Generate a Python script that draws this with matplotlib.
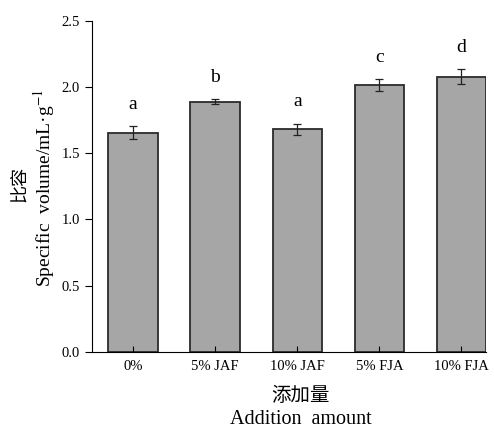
import numpy as np
import matplotlib
matplotlib.use("Agg")
import matplotlib.pyplot as plt

plt.rcParams['font.family'] = ['Liberation Serif', 'Noto Sans CJK SC']
plt.rcParams['mathtext.fontset'] = 'stix'

groups = ['0%', '5% JAF', '10% JAF', '5% FJA', '10% FJA']
values = [1.656, 1.89, 1.68, 2.015, 2.08]
errors = [0.047, 0.02, 0.045, 0.043, 0.057]
letters = ['a', 'b', 'a', 'c', 'd']

fig = plt.figure(figsize=(4.94, 4.28), dpi=100)
ax = fig.add_axes([0.186, 0.178, 0.798, 0.773])

x = np.arange(len(groups))
ax.bar(x, values, width=0.6, color='#a6a6a6', edgecolor='#2b2b2b', linewidth=1.3,
       yerr=errors, error_kw=dict(ecolor='#222222', elinewidth=0.9, capsize=3, capthick=0.9))

for i in range(len(groups)):
    ax.text(x[i], values[i] + errors[i] + 0.1, letters[i], ha='center', va='bottom', fontsize=14)

ax.set_xlim(-0.5, 4.3)
ax.set_ylim(0, 2.5)
ax.set_yticks([0.0, 0.5, 1.0, 1.5, 2.0, 2.5])
ax.set_yticklabels(['0.0', '0.5', '1.0', '1.5', '2.0', '2.5'])
ax.set_xticks(x)
ax.set_xticklabels(groups)
ax.tick_params(axis='x', direction='in', length=4, labelsize=10.5, pad=6)
ax.tick_params(axis='y', direction='out', length=5, labelsize=10.5)
ax.spines['top'].set_visible(False)
ax.spines['right'].set_visible(False)

fig.text(20 / 494, 1 - 184 / 428, '比容', rotation=90, ha='center', va='center', fontsize=13)
fig.text(44 / 494, 1 - 188 / 428, 'Specific  volume/mL·g$^{-1}$', rotation=90,
         ha='center', va='center', fontsize=14)
fig.text(300 / 494, 1 - 396 / 428, '添加量', ha='center', va='center', fontsize=14)
fig.text(301 / 494, 1 - 420 / 428, 'Addition  amount', ha='center', va='center', fontsize=14.5)

fig.savefig('out.png', dpi=100)
